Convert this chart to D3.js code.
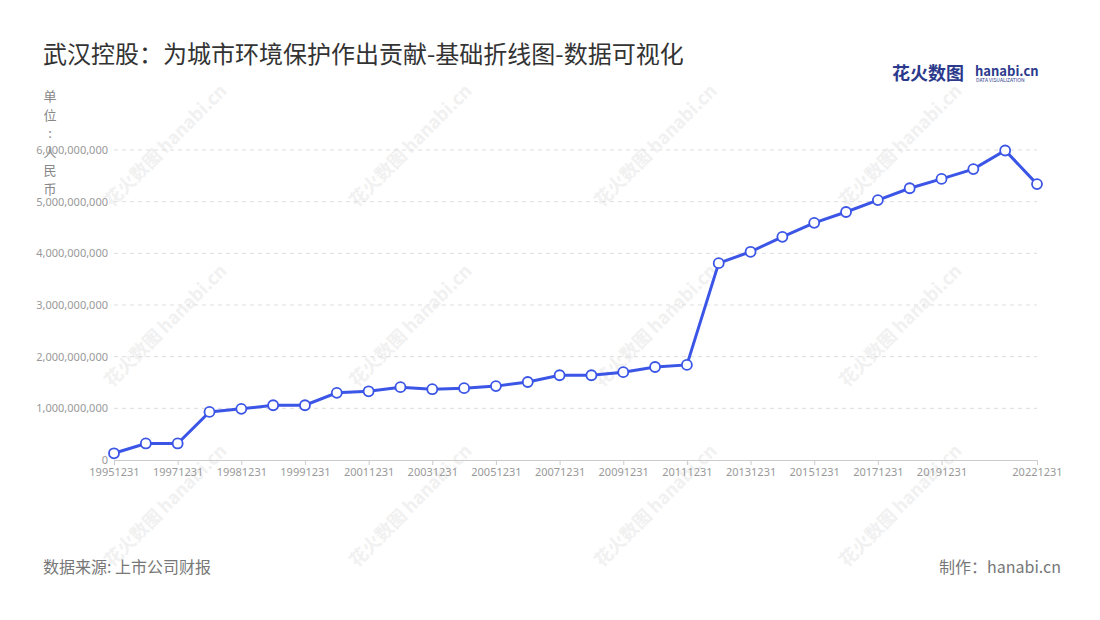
<!DOCTYPE html>
<html><head><meta charset="utf-8">
<script src="https://cdn.jsdelivr.net/npm/d3@7"></script>
<style>body{margin:0;background:#fff;font-family:"Noto Sans CJK SC","Noto Sans",sans-serif}</style>
</head><body><svg id="c" width="1100" height="620"></svg>
<script>
const categories=["19951231","19961231","19971231","19980630","19981231","19990630","19991231","20001231","20011231","20021231","20031231","20041231","20051231","20061231","20071231","20081231","20091231","20101231","20111231","20121231","20131231","20141231","20151231","20161231","20171231","20181231","20191231","20201231","20211231","20221231"];
const values=[0.13,0.32,0.32,0.93,0.99,1.06,1.06,1.30,1.33,1.41,1.37,1.39,1.43,1.51,1.64,1.64,1.70,1.80,1.84,3.81,4.03,4.32,4.59,4.80,5.03,5.26,5.44,5.63,5.99,5.34].map(v=>v*1e9);
const shownLabels=["19951231","19971231","19981231","19991231","20011231","20031231","20051231","20071231","20091231","20111231","20131231","20151231","20171231","20191231","20221231"];
const yTicks=[0,1e9,2e9,3e9,4e9,5e9,6e9];
const svg=d3.select("#c");
const x=d3.scalePoint().domain(categories).range([114,1037]);
const y=d3.scaleLinear().domain([0,6e9]).range([460,150]);
const wm=svg.append("g").attr("fill","#f1f1f1").attr("font-size",18).attr("font-weight","bold");
[[170,150],[415,150],[660,150],[905,150],[170,330],[415,330],[660,330],[905,330],[170,510],[415,510],[660,510],[905,510]].forEach(p=>{
 wm.append("text").attr("transform",`translate(${p[0]},${p[1]}) rotate(-45)`).attr("text-anchor","middle").text("花火数图 hanabi.cn");});
svg.append("text").attr("x",43).attr("y",63).attr("font-size",24).attr("fill","#333").text("武汉控股：为城市环境保护作出贡献-基础折线图-数据可视化");
svg.append("text").attr("x",892).attr("y",80).attr("font-size",18).attr("font-weight","bold").attr("fill","#2b3a8c").text("花火数图");
svg.append("text").attr("x",975).attr("y",76).attr("font-size",13).attr("font-weight","bold").attr("fill","#2b3a8c").text("hanabi.cn");
svg.append("text").attr("x",976).attr("y",82).attr("font-size",5).attr("fill","#2b3a8c").text("DATA VISUALIZATION");
const unit=["单","位",":","人","民","币"];
unit.forEach((c,i)=>svg.append("text").attr("x",50).attr("y",101+i*18.5).attr("font-size",13).attr("fill","#888").attr("text-anchor","middle").text(c));
const g=svg.append("g");
yTicks.forEach(t=>{ if(t>0) g.append("line").attr("x1",114).attr("x2",1037).attr("y1",y(t)).attr("y2",y(t)).attr("stroke","#ddd").attr("stroke-dasharray","4,4");});
g.append("g").attr("transform","translate(114,0)").call(d3.axisLeft(y).tickValues(yTicks).tickFormat(d3.format(",")).tickSize(0).tickPadding(6))
 .call(a=>{a.select(".domain").remove();a.selectAll("text").attr("fill","#999").attr("font-size",11).attr("font-family","Noto Sans");});
g.append("g").attr("transform","translate(0,460)").call(d3.axisBottom(x).tickValues(shownLabels).tickSize(5).tickPadding(3))
 .call(a=>{a.select(".domain").attr("stroke","#ccc");a.selectAll("line").attr("stroke","#ccc");a.selectAll("text").attr("fill","#999").attr("font-size",11).attr("font-family","Noto Sans");});
const data=categories.map((c,i)=>({c,v:values[i]}));
g.append("path").datum(data).attr("fill","none").attr("stroke","#3b55e6").attr("stroke-width",3)
 .attr("d",d3.line().x(d=>x(d.c)).y(d=>y(d.v)));
g.selectAll("circle").data(data).join("circle").attr("cx",d=>x(d.c)).attr("cy",d=>y(d.v)).attr("r",5)
 .attr("fill","#fff").attr("stroke","#3b55e6").attr("stroke-width",1.8);
svg.append("text").attr("x",43).attr("y",573).attr("font-size",16).attr("fill","#777").text("数据来源: 上市公司财报");
svg.append("text").attr("x",1061).attr("y",573).attr("font-size",16).attr("fill","#777").attr("text-anchor","end").text("制作：hanabi.cn");
</script></body></html>
